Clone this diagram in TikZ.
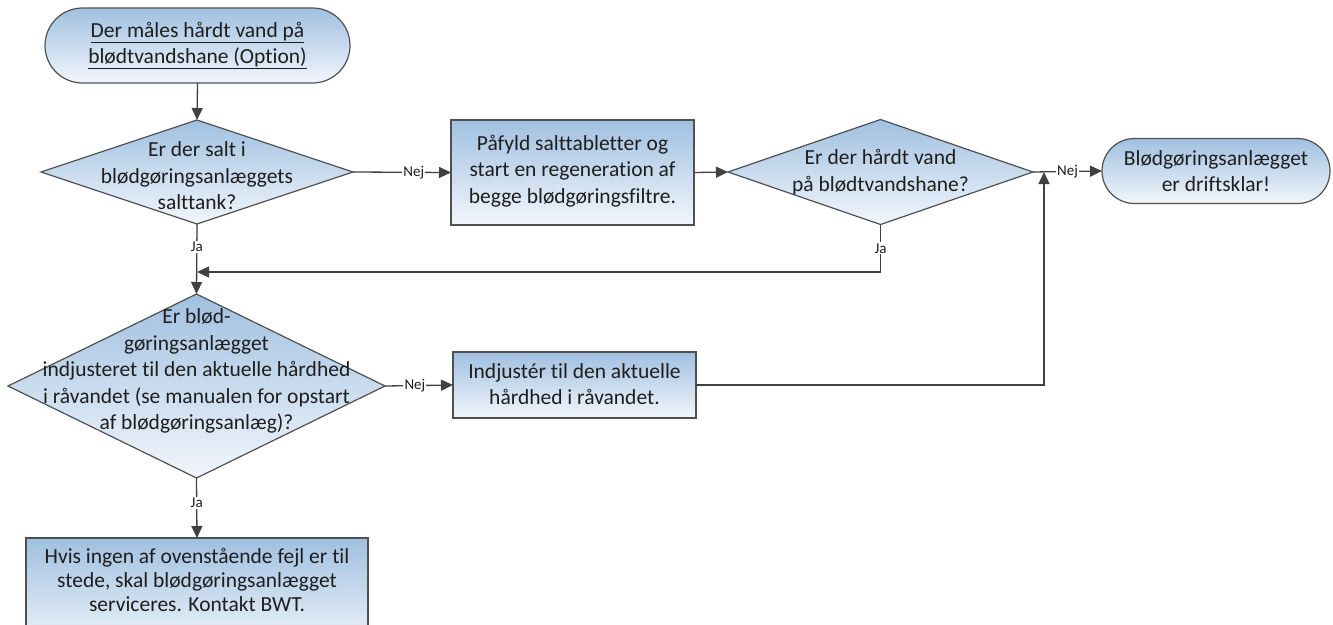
\documentclass[tikz,border=0pt]{standalone}
\usepackage{fontspec}
\setmainfont{Carlito}[Ligatures=NoCommon]
\usetikzlibrary{shapes.geometric,shapes.misc,arrows.meta}
\definecolor{fillTop}{RGB}{160,192,224}
\definecolor{fillBot}{RGB}{242,246,252}
\definecolor{edge}{RGB}{80,80,80}
\definecolor{ink}{RGB}{30,30,30}
\definecolor{wire}{RGB}{65,65,65}
\begin{document}
\begin{tikzpicture}[x=1pt,y=-1pt,
  txt/.style={font=\fontsize{21.5}{26.5}\selectfont, text=ink, align=center, inner sep=0pt},
  shaded/.style={draw=edge, line width=1.2pt, top color=fillTop, bottom color=fillBot, outer sep=0pt},
  terminal/.style={shaded, rounded rectangle, inner sep=0pt},
  procbox/.style={shaded, rectangle, inner sep=0pt},
  decision/.style={shaded, diamond, inner sep=0pt},
  flow/.style={draw=wire, line width=1.3pt, -{Triangle[length=12pt,width=11pt]}},
  tag/.style={font=\fontsize{15}{17}\selectfont, text=ink, fill=white, inner sep=1.2pt}]
\useasboundingbox (0,0) rectangle (1333,624);

% shapes
\node[terminal, minimum width=305pt, minimum height=75pt] (start) at (197.5,45.5) {};
\node[txt] (startT) at (197.5,45.5) {\underline{Der måles hårdt vand på}\\\underline{blødtvandshane (Option)}};

\node[decision, minimum width=312pt, minimum height=104pt] (salt) at (197,172) {};
\node[txt] (saltT) at (197,176) {Er der salt i\\blødgøringsanlæggets\\salttank?};

\node[procbox, minimum width=243pt, minimum height=105pt] (fill) at (572.5,172.5) {};
\node[txt] (fillT) at (572.5,171) {Påfyld salttabletter og\\start en regeneration af\\begge blødgøringsfiltre.};

\node[decision, minimum width=305pt, minimum height=105pt] (hard) at (880.5,172) {};
\node[txt] (hardT) at (880.5,172) {Er der hårdt vand\\på blødtvandshane?};

\node[terminal, minimum width=228pt, minimum height=65pt] (ready) at (1216,171) {};
\node[txt] (readyT) at (1216,171) {Blødgøringsanlægget\\er driftsklar!};

\node[decision, minimum width=377pt, minimum height=184pt] (adj) at (196.5,386) {};
\node[txt] (adjT) at (196.5,371) {Er blød-\\gøringsanlægget\\indjusteret til den aktuelle hårdhed\\i råvandet (se manualen for opstart\\af blødgøringsanlæg)?};

\node[procbox, minimum width=243pt, minimum height=66pt] (setadj) at (574.5,385) {};
\node[txt] (setadjT) at (574.5,384) {Indjustér til den aktuelle\\hårdhed i råvandet.};

\node[procbox, minimum width=342pt, minimum height=112pt] (svc) at (197,594) {};
\node[txt, anchor=north, font=\fontsize{21.5}{24}\selectfont] (svcT) at (197,548) {Hvis ingen af ovenstående fejl er til\\stede, skal blødgøringsanlægget\\serviceres. Kontakt BWT.};

% junction points
\coordinate (merge) at (197,272);
\coordinate (rejoin) at (1044,172);

% connectors
\draw[flow] (start.south) -- (salt.north);
\draw[flow] (salt.east) -- node[tag, pos=0.62] (n1) {Nej} (fill.west);
\draw[flow] (fill.east) -- (hard.west);
\draw[flow] (hard.east) -- node[tag, pos=0.5] (n2) {Nej} (ready.west);
\draw[flow] (salt.south) -- node[tag, pos=0.33] (j1) {Ja} (adj.north);
\draw[flow] (hard.south) |- node[tag, pos=0.25] (j2) {Ja} (merge);
\draw[flow] (adj.east) -- node[tag, pos=0.44] (n3) {Nej} (setadj.west);
\draw[flow] (setadj.east) -| (rejoin);
\draw[flow] (adj.south) -- node[tag, pos=0.42] (j3) {Ja} (svc.north);
\end{tikzpicture}
\end{document}
